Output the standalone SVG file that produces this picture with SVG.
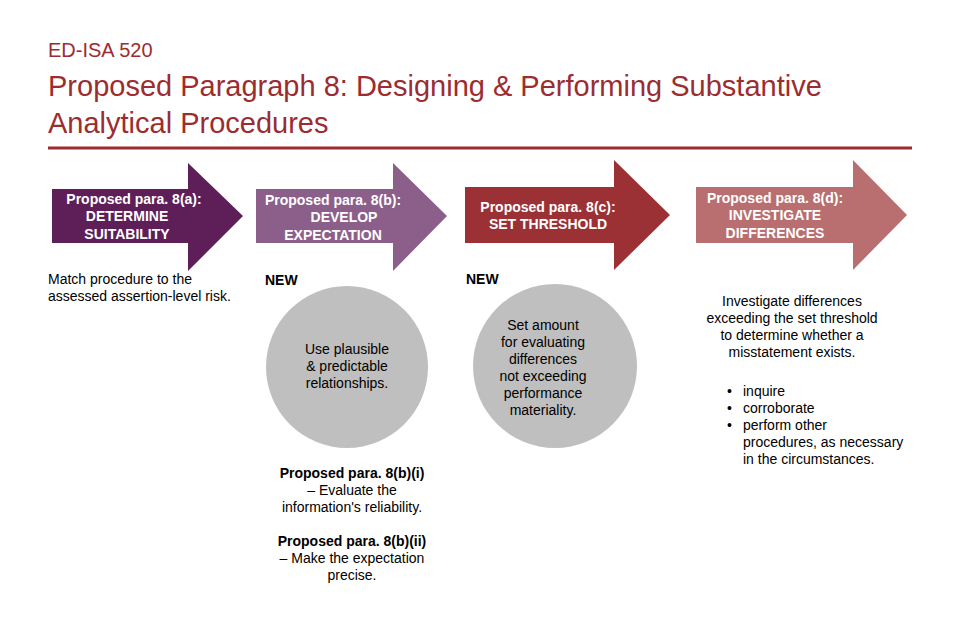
<svg xmlns="http://www.w3.org/2000/svg" width="960" height="630" viewBox="0 0 960 630">
<style>
text{font-family:"Liberation Sans",Arial,sans-serif}
.t{fill:#9B2D30}
.h{fill:#fff;font-weight:bold;font-size:14px;text-anchor:middle}
.b{fill:#000;font-size:14px}
.c{text-anchor:middle}
.bd{font-weight:bold}
.circ{fill:#BFBFBF}
</style>
<rect width="960" height="630" fill="#fff"/>
<text x="48" y="57" class="t" font-size="20">ED-ISA 520</text>
<text x="48" y="96" class="t" font-size="29">Proposed Paragraph 8: Designing &amp; Performing Substantive</text>
<text x="48" y="133" class="t" font-size="29">Analytical Procedures</text>
<line x1="48" y1="148" x2="912" y2="148" stroke="#9B2D30" stroke-width="3"/>
<g id="connectors"></g>
<g id="step-a">
<polygon points="52,189 188,189 188,163 243,216 188,271 188,243 52,243" fill="#5E1F58"/>
<text class="h" x="134" y="204">Proposed para. 8(a):</text>
<text class="h" x="127" y="221">DETERMINE</text>
<text class="h" x="127" y="239">SUITABILITY</text>
<text class="b" x="48" y="284">Match procedure to the</text>
<text class="b" x="48" y="301">assessed assertion-level risk.</text>
</g>
<g id="step-b">
<polygon points="256,189 393,189 393,163 447,216 393,271 393,243 256,243" fill="#8C5F8B"/>
<text class="h" x="333" y="205">Proposed para. 8(b):</text>
<text class="h" x="344" y="222">DEVELOP</text>
<text class="h" x="333" y="240">EXPECTATION</text>
<text class="b bd" x="265" y="285">NEW</text>
<circle class="circ" cx="347" cy="367" r="81"/>
<text class="b c" x="347" y="354">Use plausible</text>
<text class="b c" x="347" y="371">&amp; predictable</text>
<text class="b c" x="347" y="388">relationships.</text>
<text class="b c bd" x="352" y="478">Proposed para. 8(b)(i)</text>
<text class="b c" x="352" y="495">– Evaluate the</text>
<text class="b c" x="352" y="512">information's reliability.</text>
<text class="b c bd" x="352" y="546">Proposed para. 8(b)(ii)</text>
<text class="b c" x="352" y="563">– Make the expectation</text>
<text class="b c" x="352" y="580">precise.</text>
</g>
<g id="step-c">
<polygon points="465,187 614,187 614,160 670,215 614,270 614,243 465,243" fill="#9B3135"/>
<text class="h" x="548" y="212">Proposed para. 8(c):</text>
<text class="h" x="548" y="229">SET THRESHOLD</text>
<text class="b bd" x="466" y="284">NEW</text>
<circle class="circ" cx="555" cy="366" r="82"/>
<text class="b c" x="543" y="330">Set amount</text>
<text class="b c" x="543" y="347">for evaluating</text>
<text class="b c" x="543" y="364">differences</text>
<text class="b c" x="543" y="381">not exceeding</text>
<text class="b c" x="543" y="398">performance</text>
<text class="b c" x="543" y="415">materiality.</text>
</g>
<g id="step-d">
<polygon points="696,187 853,187 853,160 907,215 853,270 853,243 696,243" fill="#B96F6F"/>
<text class="h" x="775" y="203">Proposed para. 8(d):</text>
<text class="h" x="775" y="220">INVESTIGATE</text>
<text class="h" x="775" y="238">DIFFERENCES</text>
<text class="b c" x="792" y="306">Investigate differences</text>
<text class="b c" x="792" y="323">exceeding the set threshold</text>
<text class="b c" x="792" y="340">to determine whether a</text>
<text class="b c" x="792" y="357">misstatement exists.</text>
<text class="b" x="727" y="396">•</text><text class="b" x="743" y="396">inquire</text>
<text class="b" x="727" y="413">•</text><text class="b" x="743" y="413">corroborate</text>
<text class="b" x="727" y="430">•</text><text class="b" x="743" y="430">perform other</text>
<text class="b" x="743" y="447">procedures, as necessary</text>
<text class="b" x="743" y="464">in the circumstances.</text>
</g>
</svg>
